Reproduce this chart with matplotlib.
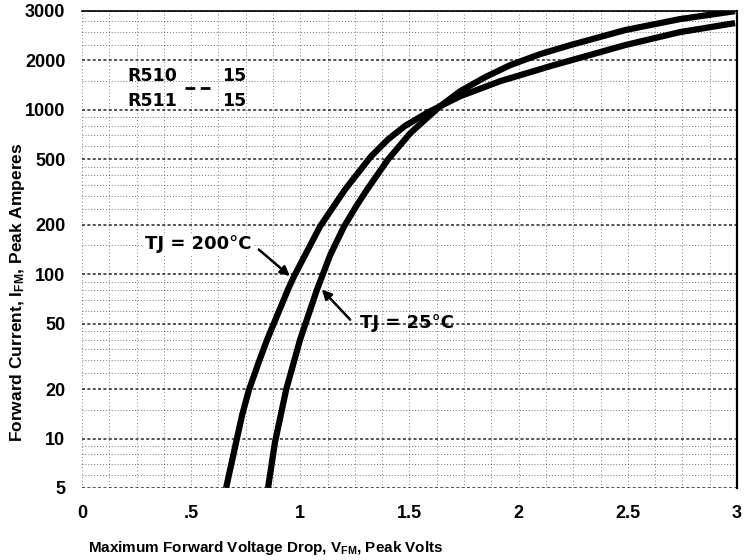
import numpy as np
import matplotlib
matplotlib.use("Agg")
import matplotlib.pyplot as plt
from matplotlib.ticker import FixedLocator

plt.rcParams['font.family'] = ['Liberation Sans', 'DejaVu Sans']
plt.rcParams['font.weight'] = 'bold'
plt.rcParams['mathtext.fontset'] = 'custom'
plt.rcParams['mathtext.bf'] = 'Liberation Sans:bold'
plt.rcParams['mathtext.rm'] = 'Liberation Sans:bold'
plt.rcParams['mathtext.default'] = 'bf'

# --- values (volts, peak amperes) ---
vf_200 = [0.660, 0.706, 0.734, 0.765, 0.813, 0.848, 0.944, 0.971, 1.090, 1.205,
          1.324, 1.402, 1.480, 1.585, 1.640, 1.732, 1.915, 2.144, 2.487, 2.739, 2.991]
if_200 = [5, 9.5, 14, 19.8, 30, 40, 81, 97, 195, 328,
          522, 662, 800, 967, 1052, 1211, 1495, 1845, 2478, 2975, 3375]

vf_25 = [0.852, 0.884, 0.935, 0.999, 1.077, 1.136, 1.200, 1.255, 1.306, 1.402,
         1.503, 1.594, 1.640, 1.732, 1.846, 1.961, 2.098, 2.236, 2.487, 2.739, 2.991]
if_25 = [5, 9.5, 19.8, 40, 81, 130, 195, 258, 328, 500,
         720, 928, 1052, 1299, 1581, 1872, 2184, 2478, 3059, 3570, 3990]

x_ticks = [0, 0.5, 1, 1.5, 2, 2.5, 3]
x_labels = ['0', '.5', '1', '1.5', '2', '2.5', '3']
# the sheet prints "3000" on its top grid line
y_ticks = [5, 10, 20, 50, 100, 200, 500, 1000, 2000, 4000]
y_labels = ['5', '10', '20', '50', '100', '200', '500', '1000', '2000', '3000']

part_nums = ['R510', 'R511']
part_suffix = ['15', '15']

fig = plt.figure(figsize=(7.48, 5.6), dpi=100)
ax = fig.add_axes([0.1096, 0.1286, 0.8757, 0.8518])

# dense chart-paper grid
minor_mult = [1.5, 2.5, 3, 3.5, 4, 4.5, 6, 7, 8, 9]
y_minor = [m * d for d in [1, 10, 100, 1000] for m in minor_mult if 5 < m * d < 4000]

ax.plot(vf_200, if_200, color='black', lw=4.5, solid_capstyle='butt',
        solid_joinstyle='round', zorder=3)
ax.plot(vf_25, if_25, color='black', lw=4.5, solid_capstyle='butt',
        solid_joinstyle='round', zorder=3)

ax.set_yscale('log')
ax.set_xlim(0, 3)
ax.set_ylim(5, 4000)
ax.set_yticks(y_ticks)
ax.set_yticklabels(y_labels)
ax.yaxis.set_minor_locator(FixedLocator(y_minor))
ax.yaxis.set_minor_formatter(plt.NullFormatter())
ax.set_xticks(x_ticks)
ax.set_xticklabels(x_labels)
ax.xaxis.set_minor_locator(FixedLocator(np.arange(0, 3.01, 0.125)))

ax.grid(which='major', axis='y', color='black', ls=(0, (2, 1.5)), lw=1.1, alpha=0.85)
ax.grid(which='minor', axis='y', color='black', ls=(0, (1, 2)), lw=0.7, alpha=0.55)
ax.grid(which='both', axis='x', color='black', ls=(0, (1, 2.5)), lw=0.7, alpha=0.5)

ax.tick_params(which='both', length=0)
ax.tick_params(axis='y', pad=12, labelsize=13)
ax.tick_params(axis='x', pad=12, labelsize=13)
for s in ['left', 'bottom']:
    ax.spines[s].set_visible(False)
ax.spines['top'].set_linestyle((0, (2, 1)))
ax.spines['top'].set_linewidth(1.2)
ax.spines['right'].set_linewidth(1.6)

# part number table
note_font = dict(family='DejaVu Sans', fontsize=12.5, fontweight='bold')
ax.text(0.21, 1604, part_nums[0], va='center', ha='left', **note_font)
ax.text(0.21, 1129, part_nums[1], va='center', ha='left', **note_font)
ax.text(0.64, 1604, part_suffix[0], va='center', ha='left', **note_font)
ax.text(0.64, 1129, part_suffix[1], va='center', ha='left', **note_font)
ax.plot([0.47, 0.60], [1355, 1355], color='black', lw=2, ls=(0, (3.5, 2)))

# curve callouts
tj_font = dict(family='DejaVu Sans', fontsize=13, fontweight='bold')
ax.text(0.775, 152, 'TJ = 200°C', ha='right', va='center',
        bbox=dict(facecolor='white', edgecolor='none', pad=1), **tj_font)
ax.annotate('', xy=(0.962, 95), xytext=(0.80, 145),
            arrowprops=dict(arrowstyle='-|>', color='black', lw=1.8, mutation_scale=14))
ax.text(1.273, 50.8, 'TJ = 25°C', ha='left', va='center', **tj_font)
ax.annotate('', xy=(1.09, 83), xytext=(1.237, 51.4),
            arrowprops=dict(arrowstyle='-|>', color='black', lw=1.8, mutation_scale=14))

fig.text(0.118, 0.021, 'Maximum Forward Voltage Drop, V$_{FM}$, Peak Volts',
         fontsize=11, ha='left', va='center')
fig.text(0.024, 0.479, 'Forward Current, I$_{FM}$, Peak Amperes',
         fontsize=12.5, rotation=90, ha='center', va='center')

fig.savefig('out.png', dpi=100, facecolor='white')
